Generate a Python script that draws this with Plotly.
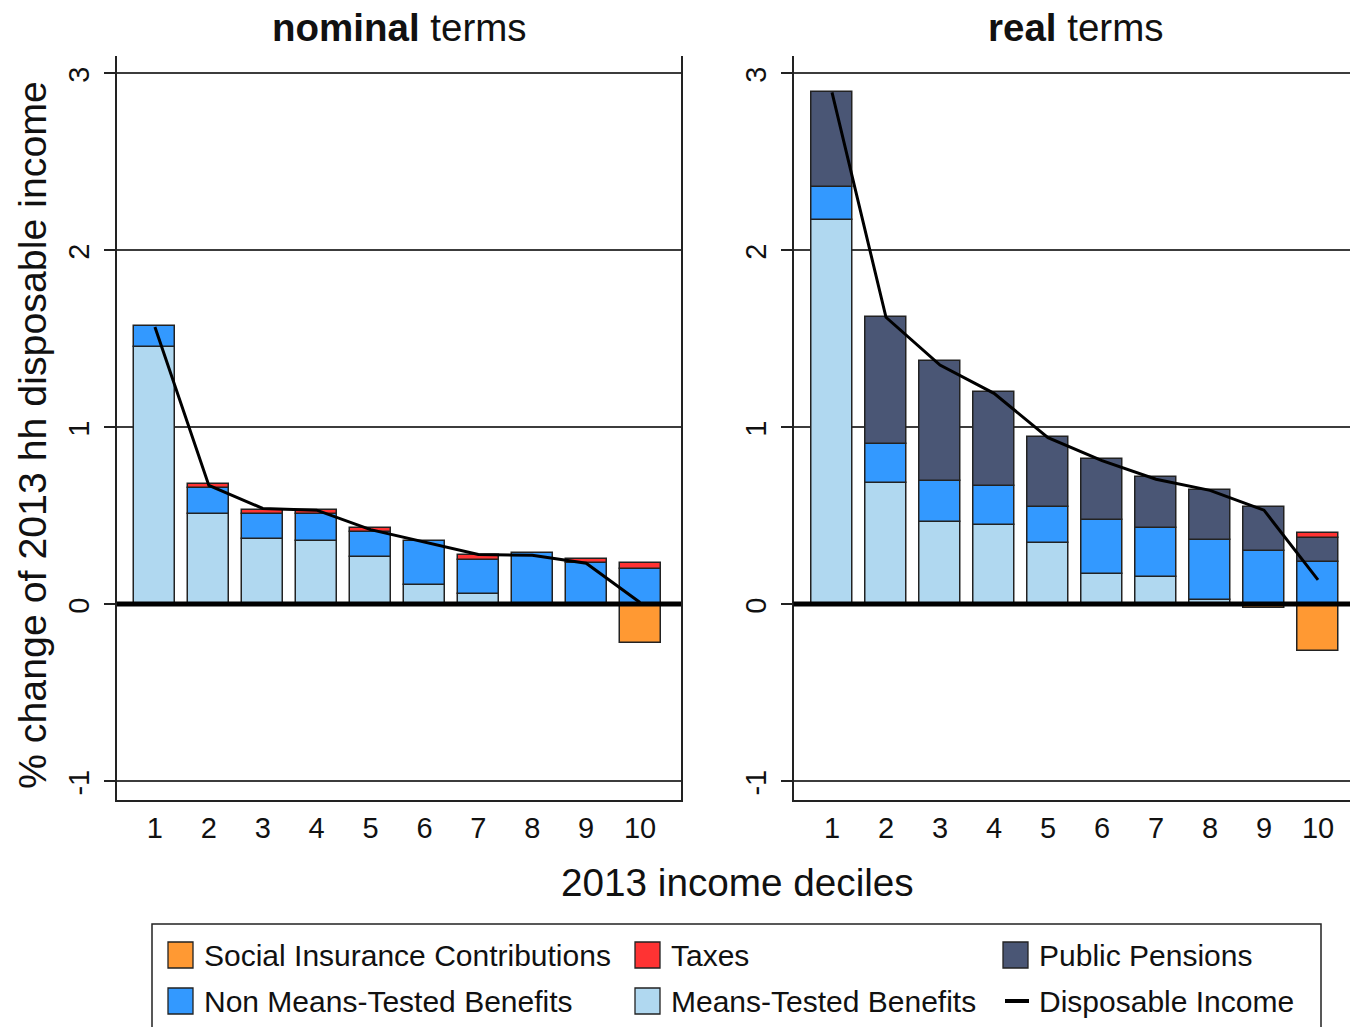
import plotly.graph_objects as go

# ---------------- data ----------------
deciles = [1, 2, 3, 4, 5, 6, 7, 8, 9, 10]
tick_labels = ["1", "2", "3", "4", "5", "6", "7", "8", "9", "10"]
y_ticks = [-1, 0, 1, 2, 3]
y_tick_labels = ["-1", "0", "1", "2", "3"]

# nominal terms
nom_sic = [None, None, None, None, None, None, None, None, None, -0.223]
nom_tax = [None, 0.022, 0.024, 0.024, 0.022, None, 0.027, None, 0.022, 0.031]
nom_pp = [None, None, None, None, None, None, None, None, None, None]
nom_nmtb = [0.121, 0.144, 0.141, 0.153, 0.140, 0.248, 0.196, 0.290, 0.231, 0.200]
nom_mtb = [1.450, 0.510, 0.367, 0.355, 0.265, 0.106, 0.055, None, None, None]
nom_di = [1.565, 0.670, 0.540, 0.530, 0.420, 0.350, 0.280, 0.275, 0.230, 0.008]

# real terms
real_sic = [None, None, None, None, None, None, None, None, -0.025, -0.266]
real_tax = [None, None, None, None, None, None, None, None, None, 0.026]
real_pp = [0.537, 0.721, 0.682, 0.535, 0.394, 0.341, 0.288, 0.281, 0.251, 0.137]
real_nmtb = [0.184, 0.221, 0.227, 0.221, 0.206, 0.309, 0.275, 0.340, 0.297, 0.238]
real_mtb = [2.170, 0.682, 0.466, 0.444, 0.342, 0.167, 0.152, 0.022, None, None]
real_di = [2.890, 1.620, 1.350, 1.190, 0.940, 0.810, 0.705, 0.642, 0.530, 0.136]

series_names = ["Social Insurance Contributions", "Taxes", "Public Pensions",
                "Non Means-Tested Benefits", "Means-Tested Benefits", "Disposable Income"]
series_colors = ["#FF9933", "#FF3333", "#4A5675", "#3399FF", "#B0D8F0", "#000000"]

panel_titles = ["<b>nominal</b> terms", "<b>real</b> terms"]
x_title = "2013 income deciles"
y_title = "% change of 2013 hh disposable income"

# ---------------- layout helpers ----------------
W, H = 1350, 1027
def px(p):
    return p / W
def py(p):
    return 1 - p / H

FONT = "Liberation Sans, Arial, sans-serif"
EDGE = "#222222"

fig = go.Figure()

panels = [
    dict(sic=nom_sic, tax=nom_tax, pp=nom_pp, nmtb=nom_nmtb, mtb=nom_mtb, di=nom_di, xa="x", ya="y"),
    dict(sic=real_sic, tax=real_tax, pp=real_pp, nmtb=real_nmtb, mtb=real_mtb, di=real_di, xa="x2", ya="y2"),
]

for p in panels:
    # stacking order (bottom to top for positives): MTB, NMTB, PP, Taxes ; SIC negative
    for vals, idx in [(p["mtb"], 4), (p["nmtb"], 3), (p["pp"], 2), (p["tax"], 1), (p["sic"], 0)]:
        fig.add_trace(go.Bar(
            x=deciles, y=vals, name=series_names[idx], width=0.76,
            marker=dict(color=series_colors[idx], line=dict(color=EDGE, width=1.5)),
            xaxis=p["xa"], yaxis=p["ya"], showlegend=False,
        ))
    fig.add_trace(go.Scatter(
        x=deciles, y=p["di"], mode="lines", name=series_names[5],
        line=dict(color="black", width=3), xaxis=p["xa"], yaxis=p["ya"], showlegend=False,
    ))

zero_px, unit_px = 604, 177.0
y_range = [(zero_px - 800) / unit_px, (zero_px - 56) / unit_px]

common_x = dict(tickmode="array", tickvals=deciles, ticktext=tick_labels, ticks="",
                showline=True, linecolor=EDGE, linewidth=2, showgrid=False, zeroline=False,
                tickfont=dict(family=FONT, size=29, color="#111"), ticklabelstandoff=1,
                fixedrange=True)
common_y = dict(range=y_range, tickmode="array", tickvals=y_ticks, ticktext=y_tick_labels,
                tickangle=-90, ticks="outside", ticklen=11, tickwidth=1.5, tickcolor=EDGE,
                showline=True, linecolor=EDGE, linewidth=2,
                showgrid=True, gridcolor="#3c3c3c", gridwidth=1.5, zeroline=False,
                tickfont=dict(family=FONT, size=29, color="#111"), ticklabelstandoff=3,
                ticklabelshift=6,
                domain=[py(800), py(56)], fixedrange=True)

fig.update_layout(
    width=W, height=H, margin=dict(l=0, r=0, t=0, b=0),
    paper_bgcolor="white", plot_bgcolor="white",
    barmode="relative", bargap=0, showlegend=False,
    font=dict(family=FONT, color="#111"),
    xaxis=dict(common_x, domain=[px(117), px(681)],
               range=[1 - 38 / 54, 10 + 41 / 54], anchor="y"),
    yaxis=dict(common_y, mirror=True, anchor="x"),
    xaxis2=dict(common_x, domain=[px(793.5), 1.0],
                range=[1 - 38.5 / 54, 1 - 38.5 / 54 + (1350 - 793.5) / 54], anchor="y2"),
    yaxis2=dict(common_y, mirror=False, anchor="x2"),
)

# thick zero lines on top of bars
for xd, ya in [("x domain", "y"), ("x2 domain", "y2")]:
    fig.add_shape(type="line", xref=xd, yref=ya, x0=0, x1=1, y0=0, y1=0,
                  line=dict(color="black", width=5), layer="above")

# panel titles
for title, cx in zip(panel_titles, [399, 1075.5]):
    fig.add_annotation(text=title, x=px(cx), y=py(27), xref="paper", yref="paper",
                       xanchor="center", yanchor="middle", showarrow=False,
                       font=dict(family=FONT, size=38.5, color="#111"))

fig.add_annotation(text=x_title, x=px(737), y=py(882), xref="paper", yref="paper",
                   xanchor="center", yanchor="middle", showarrow=False,
                   font=dict(family=FONT, size=38.7, color="#111"))
fig.add_annotation(text=y_title, x=px(32), y=py(435), xref="paper", yref="paper",
                   xanchor="center", yanchor="middle", showarrow=False, textangle=-90,
                   font=dict(family=FONT, size=39.3, color="#111"))

# manual legend box
fig.add_shape(type="rect", xref="paper", yref="paper", x0=px(152), x1=px(1321),
              y0=py(1060), y1=py(924), line=dict(color=EDGE, width=1.5),
              fillcolor="rgba(0,0,0,0)", layer="above")
legend_cols = [168, 635, 1003]
legend_rows = [955, 1001]
legend_order = [0, 1, 2, 3, 4, 5]
for k, idx in enumerate(legend_order):
    cx = legend_cols[k % 3]
    cy = legend_rows[k // 3]
    if idx == 5:
        fig.add_shape(type="line", xref="paper", yref="paper",
                      x0=px(cx + 2), x1=px(cx + 26), y0=py(cy), y1=py(cy),
                      line=dict(color=series_colors[idx], width=4), layer="above")
    else:
        fig.add_shape(type="rect", xref="paper", yref="paper",
                      x0=px(cx), x1=px(cx + 25), y0=py(cy + 13), y1=py(cy - 13),
                      fillcolor=series_colors[idx], line=dict(color=EDGE, width=1.3),
                      layer="above")
    fig.add_annotation(text=series_names[idx], x=px(cx + 34), y=py(cy),
                       xref="paper", yref="paper", xanchor="left", yanchor="middle",
                       showarrow=False, font=dict(family=FONT, size=30, color="#111"))

fig.write_html("out.html", config={"displayModeBar": False},
               post_script="document.body.style.margin='0';document.body.style.overflow='hidden';")
